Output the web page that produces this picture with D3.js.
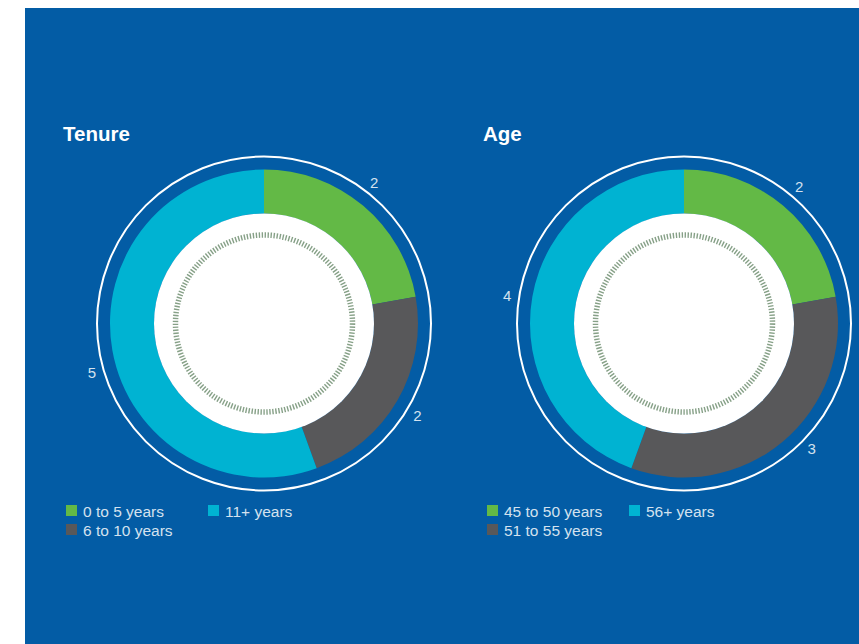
<!DOCTYPE html>
<html>
<head>
<meta charset="utf-8">
<script src="https://cdn.jsdelivr.net/npm/d3@7"></script>
<style>
  html, body { margin: 0; padding: 0; background: #ffffff; }
  svg { display: block; font-family: "Liberation Sans", Arial, sans-serif; }
</style>
</head>
<body>
<svg id="chart" width="859" height="644"></svg>
<script>
// Board composition: tenure and age groups
const tenureCategories = ["0 to 5 years", "6 to 10 years", "11+ years"];
const tenureValues = [2, 2, 5];
const ageCategories = ["45 to 50 years", "51 to 55 years", "56+ years"];
const ageValues = [2, 3, 4];
const segmentColors = ["#63b946", "#58585a", "#00b3d2"];

const svg = d3.select("#chart");

// Blue panel
svg.append("rect")
  .attr("x", 25).attr("y", 8)
  .attr("width", 834).attr("height", 636)
  .attr("fill", "#035ca5");

// Label angle nudges (degrees) keep the value labels clear of the ring
const panels = [
  { title: "Tenure", categories: tenureCategories, values: tenureValues, cx: 264, cy: 323.5, titleX: 63, legendX: 66, nudge: [-2, 1, -6] },
  { title: "Age", categories: ageCategories, values: ageValues, cx: 684, cy: 323.5, titleX: 483, legendX: 487, nudge: [0, -5.5, -1] }
];

const pie = d3.pie().sort(null).value(d => d);
const arc = d3.arc().innerRadius(110).outerRadius(154);
const labelR = 179;

panels.forEach(p => {
  svg.append("text")
    .attr("x", p.titleX).attr("y", 141)
    .attr("fill", "#ffffff")
    .attr("font-size", 20.5)
    .attr("font-weight", "bold")
    .text(p.title);

  const g = svg.append("g").attr("transform", `translate(${p.cx},${p.cy})`);

  // Outer white ring
  g.append("circle").attr("r", 167)
    .attr("fill", "none").attr("stroke", "#ffffff").attr("stroke-width", 2);

  const slices = pie(p.values);
  g.selectAll("path.seg").data(slices).join("path")
    .attr("class", "seg")
    .attr("d", arc)
    .attr("fill", (d, i) => segmentColors[i]);

  // White centre disc
  g.append("circle").attr("r", 110).attr("fill", "#ffffff");

  // Fine tick ring inside the disc
  g.append("circle").attr("r", 88.5)
    .attr("fill", "none")
    .attr("stroke", "#86a087")
    .attr("stroke-width", 5.5)
    .attr("stroke-dasharray", "1.4 1.6");

  // Value labels outside the ring
  g.selectAll("text.val").data(slices).join("text")
    .attr("class", "val")
    .attr("transform", (d, i) => {
      const a = (d.startAngle + d.endAngle) / 2 + p.nudge[i] * Math.PI / 180;
      return `translate(${labelR * Math.sin(a)},${-labelR * Math.cos(a)})`;
    })
    .attr("text-anchor", "middle")
    .attr("dy", "0.35em")
    .attr("fill", "#d4e2ef")
    .attr("font-size", 15)
    .text(d => d.data);

  // Legend
  const legendPos = [
    { dx: 0, dy: 0 },
    { dx: 0, dy: 19 },
    { dx: 142, dy: 0 }
  ];
  const lg = svg.append("g").attr("transform", `translate(${p.legendX},505)`);
  p.categories.forEach((c, i) => {
    const item = lg.append("g").attr("transform", `translate(${legendPos[i].dx},${legendPos[i].dy})`);
    item.append("rect").attr("width", 11).attr("height", 11).attr("fill", segmentColors[i]);
    item.append("text")
      .attr("x", 17).attr("y", 11.5)
      .attr("fill", "#d4e2ef")
      .attr("font-size", 15.5)
      .text(c);
  });
});
</script>
</body>
</html>
